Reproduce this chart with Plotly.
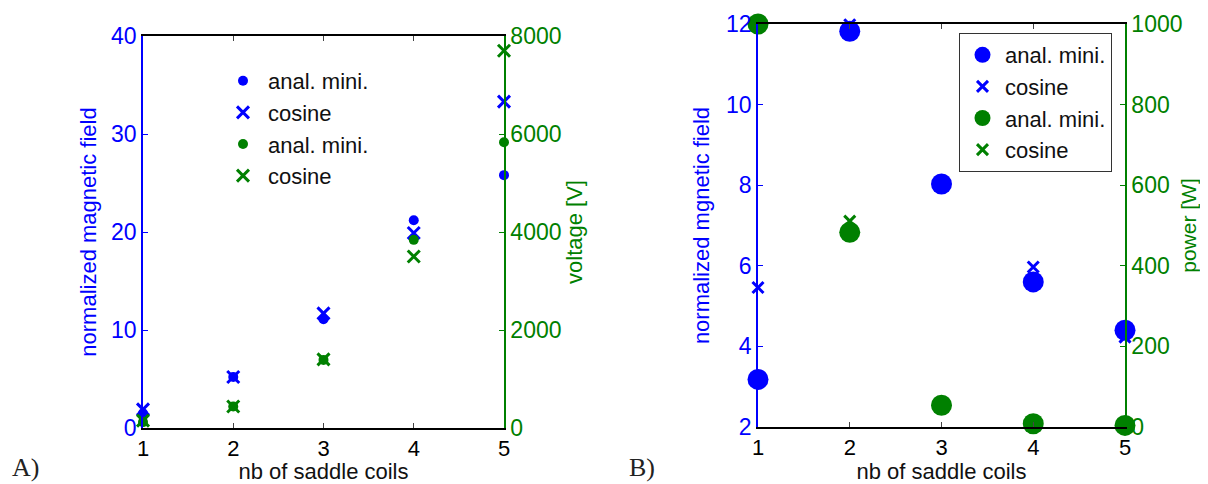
import plotly.graph_objects as go

coils = [1, 2, 3, 4, 5]

# Panel A: normalized magnetic field (left axis) and voltage [V] (right axis)
a_field_anal = [1.5, 5.2, 11.1, 21.2, 25.8]
a_field_cos = [1.9, 5.2, 11.7, 19.9, 33.3]
a_volt_anal = [120, 440, 1390, 3840, 5830]
a_volt_cos = [150, 440, 1400, 3500, 7700]

# Panel B: normalized magnetic field (left axis) and power [W] (right axis)
b_field_anal = [3.18, 11.82, 8.03, 5.6, 4.4]
b_field_cos = [5.46, 11.98, 8.05, 5.97, 4.23]
b_power_anal = [1000, 483, 54, 8, 4]
b_power_cos = [1000, 511, 54, 8, 4]

BLUE = "#0000FF"
GREEN = "#008000"
FONT = "Liberation Sans, Arial, sans-serif"

fig = go.Figure()

# Panel A
fig.add_trace(go.Scatter(x=coils, y=a_field_anal, mode="markers", name="anal. mini.",
                         marker=dict(symbol="circle", size=10, color=BLUE),
                         xaxis="x", yaxis="y", legend="legend", cliponaxis=False))
fig.add_trace(go.Scatter(x=coils, y=a_field_cos, mode="markers", name="cosine",
                         marker=dict(symbol="x-thin", size=12, color=BLUE,
                                     line=dict(width=3, color=BLUE)),
                         xaxis="x", yaxis="y", legend="legend", cliponaxis=False))
fig.add_trace(go.Scatter(x=coils, y=a_volt_anal, mode="markers", name="anal. mini.",
                         marker=dict(symbol="circle", size=10, color=GREEN),
                         xaxis="x", yaxis="y2", legend="legend", cliponaxis=False))
fig.add_trace(go.Scatter(x=coils, y=a_volt_cos, mode="markers", name="cosine",
                         marker=dict(symbol="x-thin", size=12, color=GREEN,
                                     line=dict(width=3, color=GREEN)),
                         xaxis="x", yaxis="y2", legend="legend", cliponaxis=False))

# Panel B
fig.add_trace(go.Scatter(x=coils, y=b_field_anal, mode="markers", name="anal. mini.",
                         marker=dict(symbol="circle", size=21, color=BLUE),
                         xaxis="x2", yaxis="y3", legend="legend2", cliponaxis=False))
fig.add_trace(go.Scatter(x=coils, y=b_field_cos, mode="markers", name="cosine",
                         marker=dict(symbol="x-thin", size=11, color=BLUE,
                                     line=dict(width=3, color=BLUE)),
                         xaxis="x2", yaxis="y3", legend="legend2", cliponaxis=False))
fig.add_trace(go.Scatter(x=coils, y=b_power_anal, mode="markers", name="anal. mini.",
                         marker=dict(symbol="circle", size=21, color=GREEN),
                         xaxis="x2", yaxis="y4", legend="legend2", cliponaxis=False))
fig.add_trace(go.Scatter(x=coils, y=b_power_cos, mode="markers", name="cosine",
                         marker=dict(symbol="x-thin", size=11, color=GREEN,
                                     line=dict(width=3, color=GREEN)),
                         xaxis="x2", yaxis="y4", legend="legend2", cliponaxis=False))

# The page body adds an 8px margin, so the figure is 8px smaller and all
# target pixel positions are shifted by -8.
OFF = 8
W, H = 1208 - OFF, 484 - OFF


def px(v):
    return (v - OFF) / W


def py(v):
    return 1 - (v - OFF) / H


dAx = [px(143), px(504)]
dAy = [py(428), py(36)]
dBx = [px(758), px(1125)]
dBy = [py(427), py(24)]

xcommon = dict(range=[1, 5], tickvals=coils, ticks="inside", ticklen=5, showline=True,
               linecolor="black", linewidth=1.5, mirror="ticks", showgrid=False,
               zeroline=False, automargin=False,
               tickfont=dict(size=22, color="black", family=FONT),
               title=dict(text="nb of saddle coils", font=dict(size=22, color="#111", family=FONT),
                          standoff=4))
ycommon = dict(ticks="inside", ticklen=5, showline=True, linewidth=1.5, showgrid=False,
               zeroline=False, automargin=False)

fig.update_layout(
    width=W, height=H, margin=dict(l=0, r=0, t=0, b=0, autoexpand=False),
    plot_bgcolor="white", paper_bgcolor="white",
    font=dict(family=FONT, size=22),
    xaxis=dict(domain=dAx, anchor="y", **xcommon),
    yaxis=dict(domain=dAy, anchor="x", range=[0, 40], tickvals=[0, 10, 20, 30, 40],
               linecolor=BLUE, tickcolor=BLUE, tickfont=dict(size=23, color=BLUE),
               title=dict(text="normalized magnetic field", font=dict(size=22, color=BLUE),
                          standoff=8), **ycommon),
    yaxis2=dict(domain=dAy, anchor="x", overlaying="y", side="right", range=[0, 8000],
                tickvals=[0, 2000, 4000, 6000, 8000],
                linecolor=GREEN, tickcolor=GREEN, tickfont=dict(size=23, color=GREEN),
                title=dict(text="voltage [V]", font=dict(size=22, color=GREEN), standoff=6),
                **ycommon),
    xaxis2=dict(domain=dBx, anchor="y3", **xcommon),
    yaxis3=dict(domain=dBy, anchor="x2", range=[2, 12], tickvals=[2, 4, 6, 8, 10, 12],
                linecolor=BLUE, tickcolor=BLUE, tickfont=dict(size=23, color=BLUE),
                title=dict(text="normalized mgnetic field", font=dict(size=22, color=BLUE),
                           standoff=10), **ycommon),
    yaxis4=dict(domain=dBy, anchor="x2", overlaying="y3", side="right", range=[0, 1000],
                tickvals=[0, 200, 400, 600, 800, 1000],
                linecolor=GREEN, tickcolor=GREEN, tickfont=dict(size=23, color=GREEN),
                title=dict(text="power [W]", font=dict(size=21, color=GREEN), standoff=0),
                **ycommon),
    legend=dict(x=px(218), y=py(60), xanchor="left", yanchor="top",
                bgcolor="rgba(0,0,0,0)", borderwidth=0, itemwidth=40,
                font=dict(size=22, color="#111"), itemsizing="trace"),
    legend2=dict(x=px(959), y=py(33), xanchor="left", yanchor="top",
                 bgcolor="white", bordercolor="#333", borderwidth=1, itemwidth=35,
                 font=dict(size=22, color="#111"), itemsizing="trace"),
    annotations=[
        dict(text="A)", x=px(10), y=py(467), xref="paper", yref="paper",
             xanchor="left", yanchor="middle", showarrow=False,
             font=dict(family="Liberation Serif, serif", size=26, color="#222")),
        dict(text="B)", x=px(627), y=py(467), xref="paper", yref="paper",
             xanchor="left", yanchor="middle", showarrow=False,
             font=dict(family="Liberation Serif, serif", size=26, color="#222")),
    ],
)

fig.write_html("out.html")
